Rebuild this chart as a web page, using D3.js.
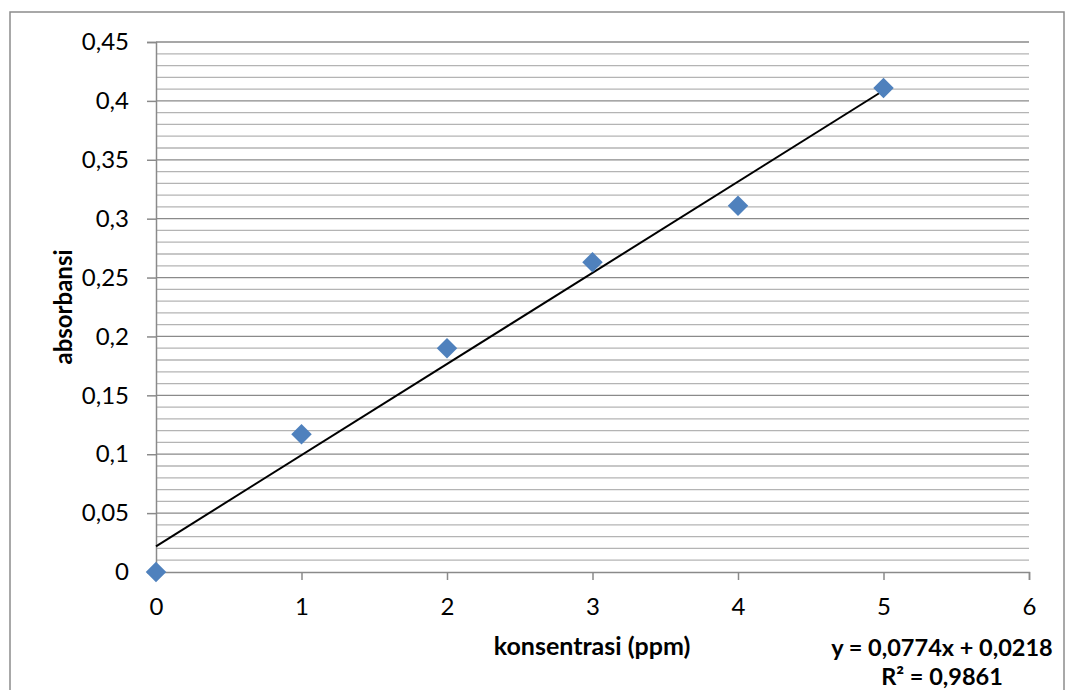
<!DOCTYPE html>
<html><head><meta charset="utf-8">
<script src="https://cdnjs.cloudflare.com/ajax/libs/d3/7.8.5/d3.min.js"></script>
<style>html,body{margin:0;padding:0;background:#fff}svg{display:block}</style>
</head><body>
<script>
const xValues = [0, 1, 2, 3, 4, 5];
const yValues = [0, 0.117, 0.19, 0.263, 0.311, 0.411];
const slope = 0.0774, intercept = 0.0218;
const xTicks = [0, 1, 2, 3, 4, 5, 6];
const yTicks = [0, 0.05, 0.1, 0.15, 0.2, 0.25, 0.3, 0.35, 0.4, 0.45];
const xTitle = "konsentrasi (ppm)";
const yTitle = "absorbansi";
const eqText = "y = 0,0774x + 0,0218";
const r2Text = "R² = 0,9861";

const W = 1069, H = 690;
const font = "Lato, 'Open Sans', sans-serif";
const svg = d3.select("body").append("svg").attr("width", W).attr("height", H);
svg.append("rect").attr("x", 10).attr("y", 12).attr("width", 1054).attr("height", 690)
  .attr("fill", "#fff").attr("stroke", "#8c8c8c").attr("stroke-width", 1.5);

const x = d3.scaleLinear().domain([0, 6]).range([156, 1029]);
const y = d3.scaleLinear().domain([0, 0.45]).range([572, 42]);

// minor gridlines
const minor = d3.range(1, 45).map(i => i / 100).filter(v => Math.round(v * 100) % 5 !== 0);
svg.append("g").selectAll("line").data(minor).join("line")
  .attr("x1", x(0)).attr("x2", x(6)).attr("y1", d => y(d)).attr("y2", d => y(d))
  .attr("stroke", "#b4b4b4").attr("stroke-width", 1.3);
// major gridlines
svg.append("g").selectAll("line").data(yTicks.filter(d => d > 0)).join("line")
  .attr("x1", x(0)).attr("x2", x(6)).attr("y1", d => y(d)).attr("y2", d => y(d))
  .attr("stroke", "#8a8a8a").attr("stroke-width", 1.3);

const fmt = d => String(+d.toFixed(2)).replace(".", ",");

const yAxis = svg.append("g").attr("transform", `translate(${x(0)},0)`)
  .call(d3.axisLeft(y).tickValues(yTicks).tickFormat(fmt).tickSize(9).tickPadding(18));
const xAxis = svg.append("g").attr("transform", `translate(0,${y(0)})`)
  .call(d3.axisBottom(x).tickValues(xTicks).tickFormat(d => d).tickSize(8).tickPadding(18));
[yAxis, xAxis].forEach(g => {
  g.select(".domain").attr("stroke", "#8a8a8a").attr("stroke-width", 1.5);
  g.selectAll(".tick line").attr("stroke", "#8a8a8a").attr("stroke-width", 1.5);
  g.selectAll(".tick text").attr("font-family", font).attr("font-size", 24).attr("fill", "#000");
});

// trendline
svg.append("line")
  .attr("x1", x(0)).attr("y1", y(intercept))
  .attr("x2", x(5)).attr("y2", y(intercept + slope * 5))
  .attr("stroke", "#000").attr("stroke-width", 2);

// markers
const data = xValues.map((v, i) => ({ x: v, y: yValues[i] }));
svg.append("g").selectAll("path").data(data).join("path")
  .attr("d", d3.symbol().type(d3.symbolSquare).size(210))
  .attr("transform", d => `translate(${x(d.x)},${y(d.y)}) rotate(45)`)
  .attr("fill", "#4f81bd");

// titles
svg.append("text").attr("x", 592).attr("y", 655).attr("text-anchor", "middle")
  .attr("font-family", font).attr("font-weight", "bold").attr("font-size", 25).text(xTitle);
svg.append("text").attr("transform", "translate(72,307) rotate(-90)").attr("text-anchor", "middle")
  .attr("font-family", font).attr("font-weight", "bold").attr("font-size", 24).text(yTitle);
svg.append("text").attr("x", 942).attr("y", 656).attr("text-anchor", "middle")
  .attr("font-family", font).attr("font-weight", "bold").attr("font-size", 23.5).text(eqText);
svg.append("text").attr("x", 942).attr("y", 685).attr("text-anchor", "middle")
  .attr("font-family", font).attr("font-weight", "bold").attr("font-size", 23.5).text(r2Text);
</script>
</body></html>
